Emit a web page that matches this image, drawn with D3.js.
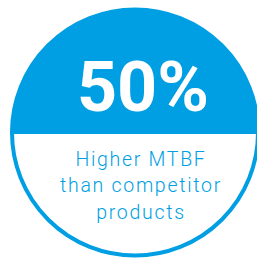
<!DOCTYPE html>
<html lang="en">
<head>
    <meta charset="UTF-8">
    <title>MTBF</title>
    <script src="https://d3js.org/d3.v7.min.js"></script>
    <style>
        body {margin: 0; background: white;}
        svg {display: block;}
    </style>
</head>
<body>
    <div class="sh"></div>
<script>
    // the stat and its caption
    var values = [50];
    var units = ["%"];
    var labels = ["Higher MTBF", "than competitor", "products"];

    var width = 257,
        height = 258,
        blue = "#009fe3";

    var cx = 135, cy = 132.5, r = 123;

    var svg = d3.select(".sh").append("svg")
        .attr("width", width)
        .attr("height", height);

    var defs = svg.append("defs");
    defs.append("clipPath").attr("id", "clip")
        .append("circle")
        .attr("cx", cx).attr("cy", cy).attr("r", r);

    // white disc, top half filled blue
    svg.append("circle")
        .attr("cx", cx).attr("cy", cy).attr("r", r)
        .attr("fill", "white");

    svg.append("rect")
        .attr("clip-path", "url(#clip)")
        .attr("x", cx - r).attr("y", cy - r)
        .attr("width", r * 2)
        .attr("height", 134 - (cy - r))
        .attr("fill", blue);

    svg.append("circle")
        .attr("cx", cx).attr("cy", cy).attr("r", r)
        .attr("fill", "none")
        .attr("stroke", blue)
        .attr("stroke-width", 4);

    svg.selectAll(".big")
        .data(values)
        .enter().append("text")
        .attr("class", "big")
        .attr("x", 143)
        .attr("y", 110.5)
        .attr("text-anchor", "middle")
        .attr("fill", "white")
        .style("font-family", "Roboto")
        .style("font-weight", 700)
        .style("font-size", "70px")
        .text(function(d, i) {return d + units[i]});

    svg.selectAll(".lbl")
        .data(labels)
        .enter().append("text")
        .attr("class", "lbl")
        .attr("x", 141)
        .attr("y", function(d, i) {return 165.5 + i * 26.8})
        .attr("text-anchor", "middle")
        .attr("fill", blue)
        .style("font-family", "Roboto")
        .style("font-weight", 300)
        .style("font-size", "19.5px")
        .style("letter-spacing", "1.7px")
        .text(function(d) {return d});
</script>
</body>
</html>
